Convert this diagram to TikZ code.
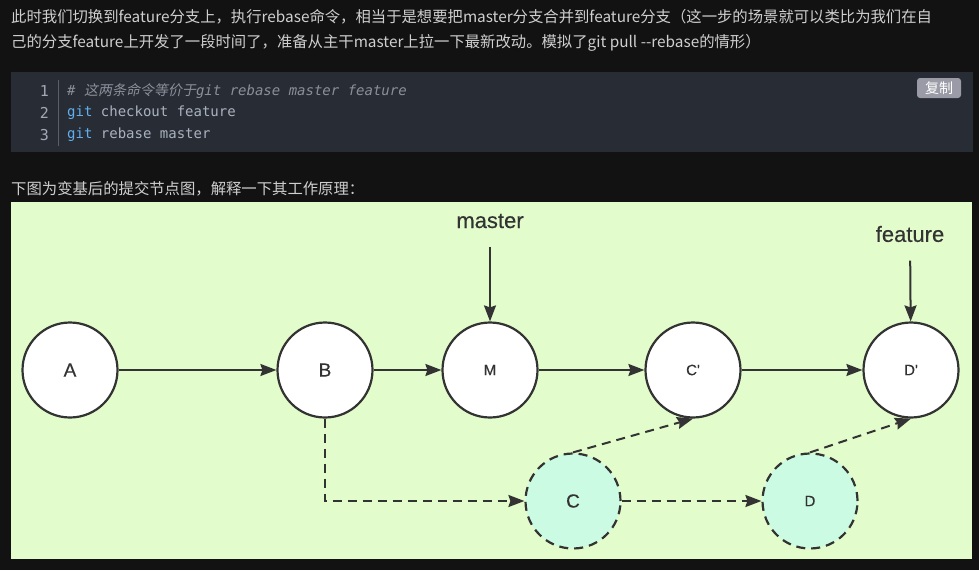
\documentclass[tikz,border=0pt]{standalone}
\usepackage{fontspec}
\usepackage{xcolor}
\usepackage{tikz}
\usetikzlibrary{arrows.meta}

\setmainfont{Noto Sans CJK SC}
\newfontfamily\labelfont[FakeBold=0.3]{Liberation Sans}
\newfontfamily\codefont{DejaVu Sans Mono}
\newfontfamily\cjkslant[FakeSlant=0.2]{Noto Sans CJK SC}

\definecolor{pagebg}{HTML}{121212}
\definecolor{paratext}{HTML}{CFCFCF}
\definecolor{codebg}{HTML}{282C34}
\definecolor{codetext}{HTML}{ABB2BF}
\definecolor{comment}{HTML}{8A909A}
\definecolor{gitblue}{HTML}{61AFEF}
\definecolor{lineno}{HTML}{A3A9B4}
\definecolor{sepline}{HTML}{5A5F68}
\definecolor{btnbg}{HTML}{9B9BA8}
\definecolor{panelbg}{HTML}{E3FCCC}
\definecolor{oldfill}{HTML}{CCFBE3}
\definecolor{ink}{HTML}{333333}

\begin{document}
\begin{tikzpicture}[x=1pt,y=-1pt,
  para/.style={anchor=west,inner sep=0pt,text=paratext,font=\fontsize{15.35}{15.35}\selectfont},
  code/.style={anchor=west,inner sep=0pt,text=codetext,font=\codefont\fontsize{14}{14}\selectfont},
  commit/.style={circle,draw=ink,line width=2.2pt,fill=white,minimum size=95pt,inner sep=0pt,
    text=ink,font=\labelfont\fontsize{15}{15}\selectfont},
  old/.style={commit,fill=oldfill,dash pattern=on 9pt off 6pt},
  big/.style={font=\labelfont\fontsize{19}{19}\selectfont},
  tag/.style={text=ink,font=\labelfont\fontsize{22}{22}\selectfont},
  link/.style={draw=ink,line width=2pt,-{Stealth[length=16pt,width=12pt,inset=2pt]}},
  ghost/.style={link,dash pattern=on 9pt off 6pt}]

% page and code block
\fill[pagebg] (0,0) rectangle (979,570);
\fill[codebg] (11,72) rectangle (973,152);
\fill[panelbg] (11,202) rectangle (972,559);

\node[para] (line1) at (11,17) {此时我们切换到feature分支上，执行rebase命令，相当于是想要把master分支合并到feature分支（这一步的场景就可以类比为我们在自};
\node[para] (line2) at (11,43) {己的分支feature上开发了一段时间了，准备从主干master上拉一下最新改动。模拟了git pull -{}-rebase的情形）};
\node[para] (line3) at (11,189) {下图为变基后的提交节点图，解释一下其工作原理：};

\foreach \n/\y in {1/91,2/113,3/135}
  \node[code,anchor=east,text=lineno,font=\codefont\fontsize{15}{15}\selectfont] (num\n) at (49,\y) {\n};
\draw[sepline,line width=1pt] (58,80) -- (58,146);
\node[code] (cmd1) at (67,91) {\color{comment}\itshape\#\ {\cjkslant 这两条命令等价于}git rebase master feature};
\node[code] (cmd2) at (67,113) {{\color{gitblue}git} checkout feature};
\node[code] (cmd3) at (67,135) {{\color{gitblue}git} rebase master};
\node[fill=btnbg,rounded corners=3pt,text=white,minimum width=44pt,minimum height=20pt,inner sep=0pt,
  font=\fontsize{14}{14}\selectfont] (copy) at (939,88) {复制};

% commits
\node[commit,big] (A) at (70,370) {A};
\node[commit,big] (B) at (325,370) {B};
\node[commit] (M) at (490,370) {M};
\node[commit] (Cp) at (693,370) {C'};
\node[commit] (Dp) at (911,370) {D'};
\node[old,big] (C) at (573,501) {C};
\node[old] (D) at (810,501) {D};

\node[tag] (master) at (490,221) {master};
\node[tag] (feature) at (910,234) {feature};

\draw[link] (A) -- (B);
\draw[link] (B) -- (M);
\draw[link] (M) -- (Cp);
\draw[link] (Cp) -- (Dp);
\draw[link,shorten <=15pt] (master) -- (M);
\draw[link,shorten <=15pt] (feature) -- (Dp);

% old commits
\draw[ghost] (B) |- (C);
\draw[ghost] (C) -- (D);
\draw[ghost] (C.north) -- (Cp.south);
\draw[ghost] (D.north) -- (Dp.south);
\end{tikzpicture}
\end{document}
